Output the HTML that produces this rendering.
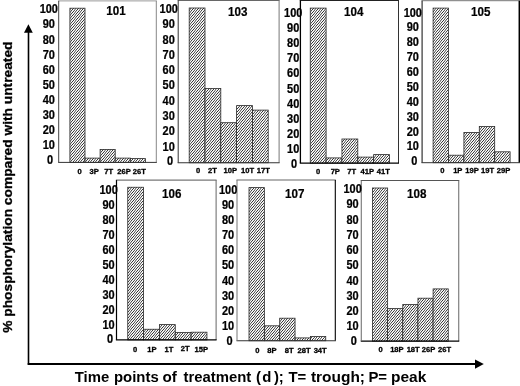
<!DOCTYPE html>
<html><head><meta charset="utf-8"><title>chart</title>
<style>
html,body{margin:0;padding:0;background:#fff;}
body{width:520px;height:386px;overflow:hidden;font-family:"Liberation Sans",sans-serif;}
svg{display:block;will-change:transform;}
text{font-family:"Liberation Sans",sans-serif;font-weight:bold;fill:#000;}
.yt{font-size:12.20px;text-anchor:middle;stroke:#000;stroke-width:0.25px;}
.tt{font-size:12.00px;text-anchor:middle;stroke:#000;stroke-width:0.2px;}
.xt{font-size:7.60px;text-anchor:middle;stroke:#000;stroke-width:0.3px;}
</style></head><body>
<svg width="520" height="386" viewBox="0 0 520 386">
<defs>
<pattern id="h" width="5" height="3" patternUnits="userSpaceOnUse" shape-rendering="crispEdges">
<rect x="0" y="0" width="1" height="1" fill="#9a9a9a"/>
<rect x="1" y="0" width="1" height="1" fill="#ffffff"/>
<rect x="2" y="0" width="1" height="1" fill="#313131"/>
<rect x="3" y="0" width="1" height="1" fill="#ffffff"/>
<rect x="4" y="0" width="1" height="1" fill="#afafaf"/>
<rect x="0" y="1" width="1" height="1" fill="#ffffff"/>
<rect x="1" y="1" width="1" height="1" fill="#484848"/>
<rect x="2" y="1" width="1" height="1" fill="#f2f2f2"/>
<rect x="3" y="1" width="1" height="1" fill="#dfdfdf"/>
<rect x="4" y="1" width="1" height="1" fill="#606060"/>
<rect x="0" y="2" width="1" height="1" fill="#787878"/>
<rect x="1" y="2" width="1" height="1" fill="#cecece"/>
<rect x="2" y="2" width="1" height="1" fill="#f9f9f9"/>
<rect x="3" y="2" width="1" height="1" fill="#3b3b3b"/>
<rect x="4" y="2" width="1" height="1" fill="#ffffff"/>
</pattern>
</defs>

<g>
<rect x="69.90" y="8.20" width="15.10" height="154.20" fill="url(#h)" stroke="#2a2a2a" stroke-width="0.8"/>
<rect x="85.00" y="158.10" width="15.10" height="4.30" fill="url(#h)" stroke="#2a2a2a" stroke-width="0.8"/>
<rect x="100.10" y="149.40" width="15.10" height="13.00" fill="url(#h)" stroke="#2a2a2a" stroke-width="0.8"/>
<rect x="115.20" y="158.10" width="15.10" height="4.30" fill="url(#h)" stroke="#2a2a2a" stroke-width="0.8"/>
<rect x="130.30" y="158.60" width="15.10" height="3.80" fill="url(#h)" stroke="#2a2a2a" stroke-width="0.8"/>
<line x1="58.20" y1="0.90" x2="156.80" y2="0.90" stroke="#999" stroke-width="1.00"/>
<line x1="156.30" y1="0.90" x2="156.30" y2="162.40" stroke="#888" stroke-width="1.00"/>
<line x1="58.20" y1="162.40" x2="156.80" y2="162.40" stroke="#333" stroke-width="1.00"/>
<line x1="58.70" y1="0.90" x2="58.70" y2="162.40" stroke="#444" stroke-width="1.00"/>
<text class="yt" transform="translate(48.80,13.12) scale(0.900,1)">100</text>
<text class="yt" transform="translate(48.80,28.25) scale(0.900,1)">90</text>
<text class="yt" transform="translate(48.80,44.17) scale(0.900,1)">80</text>
<text class="yt" transform="translate(48.80,58.50) scale(0.900,1)">70</text>
<text class="yt" transform="translate(48.80,73.63) scale(0.900,1)">60</text>
<text class="yt" transform="translate(48.80,88.76) scale(0.900,1)">50</text>
<text class="yt" transform="translate(48.80,103.88) scale(0.900,1)">40</text>
<text class="yt" transform="translate(48.80,119.01) scale(0.900,1)">30</text>
<text class="yt" transform="translate(48.80,134.14) scale(0.900,1)">20</text>
<text class="yt" transform="translate(48.80,149.27) scale(0.900,1)">10</text>
<text class="yt" transform="translate(50.00,164.27) scale(0.900,1)">0</text>
<text class="tt" transform="translate(116.00,15.00) scale(0.97,1)">101</text>
<text class="xt" x="79.70" y="173.97">0</text>
<text class="xt" x="94.10" y="173.97">3P</text>
<text class="xt" x="108.70" y="173.97">7T</text>
<text class="xt" x="124.00" y="173.97">26P</text>
<text class="xt" x="139.30" y="173.97">26T</text>
</g>
<g>
<rect x="189.20" y="8.00" width="15.80" height="154.75" fill="url(#h)" stroke="#2a2a2a" stroke-width="0.8"/>
<rect x="205.00" y="88.50" width="15.80" height="74.25" fill="url(#h)" stroke="#2a2a2a" stroke-width="0.8"/>
<rect x="220.80" y="122.70" width="15.80" height="40.05" fill="url(#h)" stroke="#2a2a2a" stroke-width="0.8"/>
<rect x="236.60" y="105.60" width="15.80" height="57.15" fill="url(#h)" stroke="#2a2a2a" stroke-width="0.8"/>
<rect x="252.40" y="110.10" width="15.80" height="52.65" fill="url(#h)" stroke="#2a2a2a" stroke-width="0.8"/>
<line x1="177.70" y1="0.40" x2="279.60" y2="0.40" stroke="#555" stroke-width="1.00"/>
<line x1="279.10" y1="0.40" x2="279.10" y2="162.75" stroke="#777" stroke-width="1.00"/>
<line x1="177.70" y1="162.75" x2="279.60" y2="162.75" stroke="#333" stroke-width="1.00"/>
<line x1="178.20" y1="0.40" x2="178.20" y2="162.75" stroke="#333" stroke-width="1.00"/>
<text class="yt" transform="translate(168.70,13.02) scale(0.900,1)">100</text>
<text class="yt" transform="translate(168.70,28.30) scale(0.900,1)">90</text>
<text class="yt" transform="translate(168.70,43.58) scale(0.900,1)">80</text>
<text class="yt" transform="translate(168.70,58.87) scale(0.900,1)">70</text>
<text class="yt" transform="translate(168.70,74.15) scale(0.900,1)">60</text>
<text class="yt" transform="translate(168.70,89.43) scale(0.900,1)">50</text>
<text class="yt" transform="translate(168.70,104.72) scale(0.900,1)">40</text>
<text class="yt" transform="translate(168.70,120.00) scale(0.900,1)">30</text>
<text class="yt" transform="translate(168.70,135.28) scale(0.900,1)">20</text>
<text class="yt" transform="translate(168.70,150.57) scale(0.900,1)">10</text>
<text class="yt" transform="translate(170.00,164.97) scale(0.900,1)">0</text>
<text class="tt" transform="translate(237.70,15.90) scale(0.97,1)">103</text>
<text class="xt" x="198.00" y="173.37">0</text>
<text class="xt" x="212.50" y="173.37">2T</text>
<text class="xt" x="230.30" y="173.37">10P</text>
<text class="xt" x="247.50" y="173.37">10T</text>
<text class="xt" x="263.40" y="173.37">17T</text>
</g>
<g>
<rect x="310.25" y="8.10" width="15.85" height="155.00" fill="url(#h)" stroke="#2a2a2a" stroke-width="0.8"/>
<rect x="326.10" y="157.90" width="15.85" height="5.20" fill="url(#h)" stroke="#2a2a2a" stroke-width="0.8"/>
<rect x="341.95" y="139.00" width="15.85" height="24.10" fill="url(#h)" stroke="#2a2a2a" stroke-width="0.8"/>
<rect x="357.80" y="157.10" width="15.85" height="6.00" fill="url(#h)" stroke="#2a2a2a" stroke-width="0.8"/>
<rect x="373.65" y="154.60" width="15.85" height="8.50" fill="url(#h)" stroke="#2a2a2a" stroke-width="0.8"/>
<line x1="299.75" y1="0.50" x2="399.00" y2="0.50" stroke="#222" stroke-width="1.00"/>
<line x1="398.50" y1="0.50" x2="398.50" y2="163.10" stroke="#333" stroke-width="1.00"/>
<line x1="299.75" y1="163.10" x2="399.00" y2="163.10" stroke="#000" stroke-width="1.10"/>
<line x1="300.40" y1="0.50" x2="300.40" y2="163.10" stroke="#000" stroke-width="1.30"/>
<text class="yt" transform="translate(293.20,16.87) scale(0.900,1)">100</text>
<text class="yt" transform="translate(293.20,32.02) scale(0.900,1)">90</text>
<text class="yt" transform="translate(293.20,47.18) scale(0.900,1)">80</text>
<text class="yt" transform="translate(293.20,62.33) scale(0.900,1)">70</text>
<text class="yt" transform="translate(293.20,77.49) scale(0.900,1)">60</text>
<text class="yt" transform="translate(293.20,92.65) scale(0.900,1)">50</text>
<text class="yt" transform="translate(293.20,107.80) scale(0.900,1)">40</text>
<text class="yt" transform="translate(293.20,122.96) scale(0.900,1)">30</text>
<text class="yt" transform="translate(293.20,138.11) scale(0.900,1)">20</text>
<text class="yt" transform="translate(293.20,153.27) scale(0.900,1)">10</text>
<text class="yt" transform="translate(294.10,168.12) scale(0.900,1)">0</text>
<text class="tt" transform="translate(353.80,15.50) scale(0.97,1)">104</text>
<text class="xt" x="318.10" y="173.97">0</text>
<text class="xt" x="335.30" y="173.97">7P</text>
<text class="xt" x="351.75" y="173.97">7T</text>
<text class="xt" x="367.30" y="173.97">41P</text>
<text class="xt" x="383.40" y="173.97">41T</text>
</g>
<g>
<rect x="433.10" y="8.10" width="15.40" height="154.60" fill="url(#h)" stroke="#2a2a2a" stroke-width="0.8"/>
<rect x="448.50" y="155.20" width="15.40" height="7.50" fill="url(#h)" stroke="#2a2a2a" stroke-width="0.8"/>
<rect x="463.90" y="132.40" width="15.40" height="30.30" fill="url(#h)" stroke="#2a2a2a" stroke-width="0.8"/>
<rect x="479.30" y="126.50" width="15.40" height="36.20" fill="url(#h)" stroke="#2a2a2a" stroke-width="0.8"/>
<rect x="494.70" y="151.80" width="15.40" height="10.90" fill="url(#h)" stroke="#2a2a2a" stroke-width="0.8"/>
<line x1="421.50" y1="0.70" x2="520.05" y2="0.70" stroke="#777" stroke-width="1.00"/>
<line x1="519.30" y1="0.70" x2="519.30" y2="162.70" stroke="#000" stroke-width="1.50"/>
<line x1="421.50" y1="162.70" x2="520.05" y2="162.70" stroke="#333" stroke-width="1.00"/>
<line x1="422.10" y1="0.70" x2="422.10" y2="162.70" stroke="#333" stroke-width="1.20"/>
<text class="yt" transform="translate(412.80,16.77) scale(0.900,1)">100</text>
<text class="yt" transform="translate(412.80,30.71) scale(0.900,1)">90</text>
<text class="yt" transform="translate(412.80,46.06) scale(0.900,1)">80</text>
<text class="yt" transform="translate(412.80,61.30) scale(0.900,1)">70</text>
<text class="yt" transform="translate(412.80,76.15) scale(0.900,1)">60</text>
<text class="yt" transform="translate(412.80,90.99) scale(0.900,1)">50</text>
<text class="yt" transform="translate(412.80,105.83) scale(0.900,1)">40</text>
<text class="yt" transform="translate(412.80,120.68) scale(0.900,1)">30</text>
<text class="yt" transform="translate(412.80,135.52) scale(0.900,1)">20</text>
<text class="yt" transform="translate(412.80,150.37) scale(0.900,1)">10</text>
<text class="yt" transform="translate(414.40,164.97) scale(0.900,1)">0</text>
<text class="tt" transform="translate(480.70,16.00) scale(0.97,1)">105</text>
<text class="xt" x="442.40" y="173.17">0</text>
<text class="xt" x="457.80" y="173.17">1P</text>
<text class="xt" x="472.10" y="173.17">19P</text>
<text class="xt" x="487.60" y="172.57">19T</text>
<text class="xt" x="503.50" y="173.17">29P</text>
</g>
<g>
<rect x="127.75" y="187.25" width="15.84" height="152.65" fill="url(#h)" stroke="#2a2a2a" stroke-width="0.8"/>
<rect x="143.59" y="329.25" width="15.84" height="10.65" fill="url(#h)" stroke="#2a2a2a" stroke-width="0.8"/>
<rect x="159.43" y="324.60" width="15.84" height="15.30" fill="url(#h)" stroke="#2a2a2a" stroke-width="0.8"/>
<rect x="175.27" y="332.40" width="15.84" height="7.50" fill="url(#h)" stroke="#2a2a2a" stroke-width="0.8"/>
<rect x="191.11" y="332.20" width="15.84" height="7.70" fill="url(#h)" stroke="#2a2a2a" stroke-width="0.8"/>
<line x1="115.90" y1="180.10" x2="216.60" y2="180.10" stroke="#777" stroke-width="1.20"/>
<line x1="216.10" y1="180.10" x2="216.10" y2="339.90" stroke="#666" stroke-width="1.00"/>
<line x1="115.90" y1="339.90" x2="216.60" y2="339.90" stroke="#000" stroke-width="1.20"/>
<line x1="116.50" y1="180.10" x2="116.50" y2="339.90" stroke="#000" stroke-width="1.20"/>
<text class="yt" transform="translate(108.60,193.62) scale(0.900,1)">100</text>
<text class="yt" transform="translate(108.60,208.62) scale(0.900,1)">90</text>
<text class="yt" transform="translate(108.60,223.62) scale(0.900,1)">80</text>
<text class="yt" transform="translate(108.60,238.62) scale(0.900,1)">70</text>
<text class="yt" transform="translate(108.60,253.62) scale(0.900,1)">60</text>
<text class="yt" transform="translate(108.60,268.62) scale(0.900,1)">50</text>
<text class="yt" transform="translate(108.60,283.62) scale(0.900,1)">40</text>
<text class="yt" transform="translate(108.60,298.62) scale(0.900,1)">30</text>
<text class="yt" transform="translate(108.60,313.62) scale(0.900,1)">20</text>
<text class="yt" transform="translate(108.60,328.62) scale(0.900,1)">10</text>
<text class="yt" transform="translate(110.00,343.47) scale(0.900,1)">0</text>
<text class="tt" transform="translate(171.80,198.40) scale(0.97,1)">106</text>
<text class="xt" x="135.10" y="351.57">0</text>
<text class="xt" x="152.00" y="351.57">1P</text>
<text class="xt" x="169.00" y="351.57">1T</text>
<text class="xt" x="185.10" y="350.67">2T</text>
<text class="xt" x="201.20" y="351.57">15P</text>
</g>
<g>
<rect x="249.00" y="187.60" width="15.35" height="153.15" fill="url(#h)" stroke="#2a2a2a" stroke-width="0.8"/>
<rect x="264.35" y="325.80" width="15.35" height="14.95" fill="url(#h)" stroke="#2a2a2a" stroke-width="0.8"/>
<rect x="279.70" y="318.20" width="15.35" height="22.55" fill="url(#h)" stroke="#2a2a2a" stroke-width="0.8"/>
<rect x="295.05" y="337.90" width="15.35" height="2.85" fill="url(#h)" stroke="#2a2a2a" stroke-width="0.8"/>
<rect x="310.40" y="336.50" width="15.35" height="4.25" fill="url(#h)" stroke="#2a2a2a" stroke-width="0.8"/>
<line x1="236.50" y1="180.00" x2="335.85" y2="180.00" stroke="#666" stroke-width="1.20"/>
<line x1="335.30" y1="180.00" x2="335.30" y2="340.75" stroke="#000" stroke-width="1.10"/>
<line x1="236.50" y1="340.75" x2="335.85" y2="340.75" stroke="#333" stroke-width="1.00"/>
<line x1="237.00" y1="180.00" x2="237.00" y2="340.75" stroke="#777" stroke-width="1.00"/>
<text class="yt" transform="translate(228.10,193.87) scale(0.900,1)">100</text>
<text class="yt" transform="translate(228.10,208.99) scale(0.900,1)">90</text>
<text class="yt" transform="translate(228.10,224.11) scale(0.900,1)">80</text>
<text class="yt" transform="translate(228.10,239.23) scale(0.900,1)">70</text>
<text class="yt" transform="translate(228.10,254.36) scale(0.900,1)">60</text>
<text class="yt" transform="translate(228.10,269.48) scale(0.900,1)">50</text>
<text class="yt" transform="translate(228.10,284.60) scale(0.900,1)">40</text>
<text class="yt" transform="translate(228.10,299.72) scale(0.900,1)">30</text>
<text class="yt" transform="translate(228.10,314.85) scale(0.900,1)">20</text>
<text class="yt" transform="translate(228.10,329.97) scale(0.900,1)">10</text>
<text class="yt" transform="translate(229.50,345.12) scale(0.900,1)">0</text>
<text class="tt" transform="translate(294.80,198.20) scale(0.97,1)">107</text>
<text class="xt" x="257.40" y="353.27">0</text>
<text class="xt" x="272.00" y="353.27">8P</text>
<text class="xt" x="289.25" y="353.27">8T</text>
<text class="xt" x="304.10" y="353.27">28T</text>
<text class="xt" x="320.20" y="353.27">34T</text>
</g>
<g>
<rect x="372.50" y="188.00" width="15.15" height="153.10" fill="url(#h)" stroke="#2a2a2a" stroke-width="0.8"/>
<rect x="387.65" y="308.60" width="15.15" height="32.50" fill="url(#h)" stroke="#2a2a2a" stroke-width="0.8"/>
<rect x="402.80" y="304.50" width="15.15" height="36.60" fill="url(#h)" stroke="#2a2a2a" stroke-width="0.8"/>
<rect x="417.95" y="298.20" width="15.15" height="42.90" fill="url(#h)" stroke="#2a2a2a" stroke-width="0.8"/>
<rect x="433.10" y="288.90" width="15.15" height="52.20" fill="url(#h)" stroke="#2a2a2a" stroke-width="0.8"/>
<line x1="360.75" y1="180.50" x2="459.25" y2="180.50" stroke="#555" stroke-width="1.00"/>
<line x1="458.75" y1="180.50" x2="458.75" y2="341.10" stroke="#666" stroke-width="1.00"/>
<line x1="360.75" y1="341.10" x2="459.25" y2="341.10" stroke="#000" stroke-width="1.20"/>
<line x1="361.25" y1="180.50" x2="361.25" y2="341.10" stroke="#666" stroke-width="1.00"/>
<text class="yt" transform="translate(352.60,193.27) scale(0.900,1)">100</text>
<text class="yt" transform="translate(352.60,208.47) scale(0.900,1)">90</text>
<text class="yt" transform="translate(352.60,223.68) scale(0.900,1)">80</text>
<text class="yt" transform="translate(352.60,238.88) scale(0.900,1)">70</text>
<text class="yt" transform="translate(352.60,254.09) scale(0.900,1)">60</text>
<text class="yt" transform="translate(352.60,269.30) scale(0.900,1)">50</text>
<text class="yt" transform="translate(352.60,284.50) scale(0.900,1)">40</text>
<text class="yt" transform="translate(352.60,299.71) scale(0.900,1)">30</text>
<text class="yt" transform="translate(352.60,314.91) scale(0.900,1)">20</text>
<text class="yt" transform="translate(352.60,330.12) scale(0.900,1)">10</text>
<text class="yt" transform="translate(353.70,345.12) scale(0.900,1)">0</text>
<text class="tt" transform="translate(416.70,197.90) scale(0.97,1)">108</text>
<text class="xt" x="380.70" y="351.57">0</text>
<text class="xt" x="396.90" y="351.57">18P</text>
<text class="xt" x="413.20" y="351.57">18T</text>
<text class="xt" x="428.50" y="351.57">26P</text>
<text class="xt" x="444.50" y="351.57">26T</text>
</g>
<line x1="28.5" y1="30" x2="28.5" y2="364.8" stroke="#000" stroke-width="1.6"/>
<polygon points="28.4,24.2 24,32.8 32.8,32.8" fill="#000"/>
<line x1="27.7" y1="364" x2="477" y2="364" stroke="#000" stroke-width="2"/>
<polygon points="483.8,364.1 475,359.5 475,368.7" fill="#000"/>
<text x="0" y="0" transform="translate(12.3,332.8) rotate(-90) scale(1.1105,1)" style="font-size:12.4px;stroke:#000;stroke-width:0.3px" id="ylab">% phosphorylation compared with untreated</text>
<text x="74.70" y="381.7" style="font-size:14.90px" class="xl">Time</text>
<text x="114.00" y="381.7" style="font-size:14.90px" class="xl">points</text>
<text x="162.40" y="381.7" style="font-size:15.20px" class="xl">of</text>
<text x="183.45" y="381.7" style="font-size:14.90px" class="xl">treatment</text>
<text x="256.00" y="381.7" style="font-size:14.90px" class="xl">(</text>
<text x="262.30" y="381.7" style="font-size:14.90px" class="xl">d</text>
<text x="273.90" y="381.7" style="font-size:14.90px" class="xl">);</text>
<text x="288.45" y="381.7" style="font-size:14.90px" class="xl">T=</text>
<text x="310.95" y="381.7" style="font-size:15.45px" class="xl">trough;</text>
<text x="368.40" y="381.7" style="font-size:14.90px" class="xl">P=</text>
<text x="391.00" y="381.7" style="font-size:15.50px" class="xl">peak</text>
</svg></body></html>
